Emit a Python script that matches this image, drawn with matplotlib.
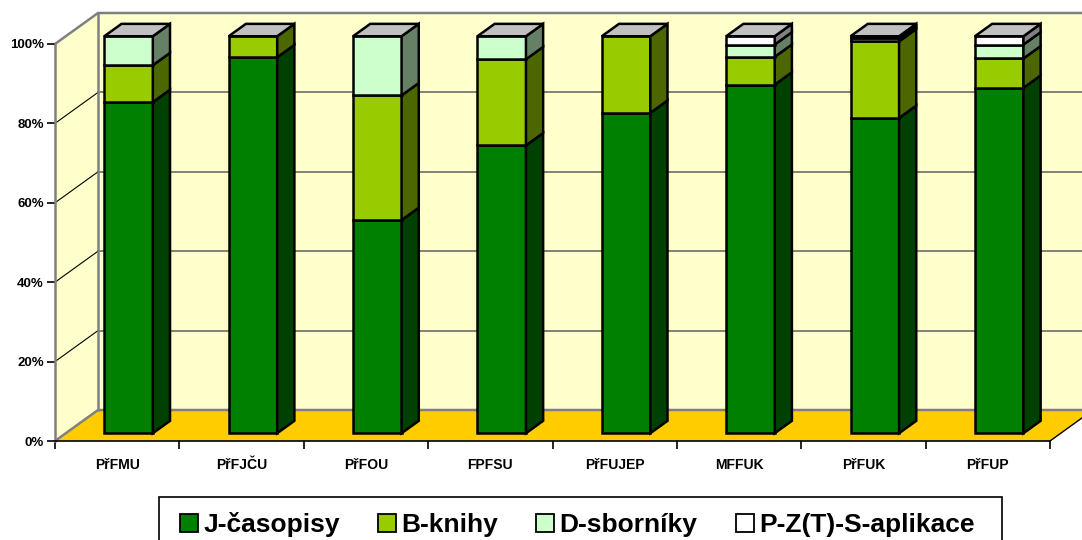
import matplotlib
matplotlib.use('Agg')
import matplotlib.pyplot as plt
from matplotlib.patches import Polygon, Patch, Rectangle

plt.rcParams['font.family'] = ['Liberation Sans', 'DejaVu Sans']
plt.rcParams['font.weight'] = 'bold'

categories = ['PřFMU', 'PřFJČU', 'PřFOU', 'FPFSU', 'PřFUJEP', 'MFFUK', 'PřFUK', 'PřFUP']
series = ['J-časopisy', 'B-knihy', 'D-sborníky', 'P-Z(T)-S-aplikace']
j_casopisy = [83.4, 94.7, 53.7, 72.5, 80.7, 87.8, 79.4, 87.0]
b_knihy = [9.3, 5.3, 31.4, 21.7, 19.3, 7.0, 19.3, 7.4]
d_sborniky = [7.3, 0.0, 14.9, 5.8, 0.0, 3.1, 0.8, 3.5]
p_aplikace = [0.0, 0.0, 0.0, 0.0, 0.0, 2.1, 0.5, 2.1]
yticks = [0, 20, 40, 60, 80, 100]

front_cols = ['#008000', '#99CC00', '#CCFFCC', '#FFFFFF']
side_cols = ['#004000', '#4C6600', '#668066', '#808080']
top_col = '#C0C0C0'

# depth projection (in data units)
DX, DY = 0.3457, 7.81
D0, D1 = 0.25, 0.65
BAR_L, BAR_W = 0.31, 0.39

fig = plt.figure(figsize=(10.82, 5.40), dpi=100)
ax = fig.add_axes([55 / 1082, 1 - 441 / 540, 995 / 1082, 397 / 540])
ax.set_xlim(0, len(categories))
ax.set_ylim(0, 100)
n = len(categories)

def P(x, y, d):
    return (x + d * DX, y + d * DY)

# walls and floor
ax.add_patch(Polygon([P(0, 0, 0), P(0, 100, 0), P(0, 100, 1), P(0, 0, 1)],
                     fc='#FFFFCC', ec='none', clip_on=False, zorder=0))
ax.add_patch(Polygon([P(0, 0, 1), P(n, 0, 1), P(n, 100, 1), P(0, 100, 1)],
                     fc='#FFFFCC', ec='none', clip_on=False, zorder=0))
ax.add_patch(Polygon([P(0, 0, 0), P(n, 0, 0), P(n, 0, 1), P(0, 0, 1)],
                     fc='#FFCC00', ec='none', clip_on=False, zorder=0))

for v in yticks[1:-1]:
    a, b = P(0, v, 1), P(n, v, 1)
    ax.plot([a[0], b[0]], [a[1], b[1]], color='#777770', lw=1.3, clip_on=False, zorder=1)
    a, b = P(0, v, 0), P(0, v, 1)
    ax.plot([a[0], b[0]], [a[1], b[1]], color='black', lw=0.8, clip_on=False, zorder=1)

gray_edges = [[P(0, 100, 0), P(0, 100, 1), P(n, 100, 1)],
              [P(0, 0, 1), P(0, 100, 1)],
              [P(0, 0, 0), P(0, 0, 1), P(n, 0, 1)]]
for e in gray_edges:
    ax.plot([p[0] for p in e], [p[1] for p in e], color='#808080', lw=1.8,
            clip_on=False, zorder=1, solid_joinstyle='miter')
a, b = P(n, 0, 0), P(n, 0, 1)
ax.plot([a[0], b[0]], [a[1], b[1]], color='black', lw=1, clip_on=False, zorder=1)

# stacked 3d bars
data = [j_casopisy, b_knihy, d_sborniky, p_aplikace]
for i in range(n):
    x0 = i + BAR_L
    x1 = x0 + BAR_W
    base = 0
    segs = [(k, data[k][i]) for k in range(len(series)) if data[k][i] > 0]
    for k, val in segs:
        top = base + val
        ax.add_patch(Polygon([P(x0, base, D0), P(x1, base, D0), P(x1, top, D0), P(x0, top, D0)],
                             fc=front_cols[k], ec='black', lw=1.8, zorder=3, clip_on=False))
        ax.add_patch(Polygon([P(x1, base, D0), P(x1, base, D1), P(x1, top, D1), P(x1, top, D0)],
                             fc=side_cols[k], ec='black', lw=1.8, zorder=3, clip_on=False))
        base = top
    ax.add_patch(Polygon([P(x0, base, D0), P(x1, base, D0), P(x1, base, D1), P(x0, base, D1)],
                         fc=top_col, ec='black', lw=1.8, zorder=3, clip_on=False))

# axes
for s in ['top', 'right']:
    ax.spines[s].set_visible(False)
ax.spines['left'].set_color('#808080')
ax.spines['left'].set_linewidth(1.8)
ax.spines['bottom'].set_linewidth(1.2)
ax.spines['left'].set_zorder(2)
ax.spines['bottom'].set_zorder(2)
ax.set_facecolor('none')
ax.set_yticks(yticks)
ax.set_yticklabels([f'{v}%' for v in yticks], fontsize=9.5, fontweight='bold')
ax.tick_params(axis='y', length=6, width=1.2, pad=2)
ax.set_xticks(range(n + 1))
ax.set_xticklabels([])
ax.tick_params(axis='x', which='major', length=6, width=1.2)
ax.set_xticks([i + 0.5 for i in range(n)], minor=True)
ax.set_xticklabels(categories, minor=True, fontsize=10, fontweight='bold')
ax.tick_params(axis='x', which='minor', length=0, pad=12)

# legend
fig.patches.append(Rectangle((159 / 1082, -0.05), (1002 - 159) / 1082, 1.05 - 497 / 540,
                             transform=fig.transFigure, fc='white', ec='black', lw=1.2))
handles = [Patch(fc=front_cols[k], ec='black', lw=1.3) for k in range(len(series))]
leg = fig.legend(handles, series, loc='upper left', bbox_to_anchor=(180 / 1082, 1 - 512 / 540),
                 ncol=4, prop={'weight': 'bold', 'size': 19}, frameon=False,
                 handlelength=0.68, handleheight=0.68, handletextpad=0.2,
                 columnspacing=1.45, borderpad=0, borderaxespad=0)

fig.savefig('out.png', dpi=100)
